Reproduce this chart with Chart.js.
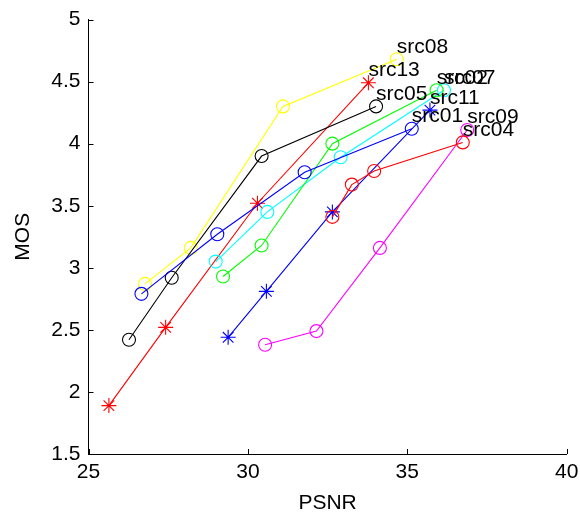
<!DOCTYPE html>
<html>
<head>
<meta charset="utf-8">
<script src="https://cdn.jsdelivr.net/npm/chart.js@4/dist/chart.umd.min.js"></script>
<style>
  html, body { margin: 0; padding: 0; background: #fff; }
  #wrap { width: 580px; height: 518px; }
</style>
</head>
<body>
<div id="wrap"><canvas id="mosChart" width="580" height="518"></canvas></div>
<script>
// axis ticks
const xTicks = [25, 30, 35, 40];
const xTickLabels = ['25', '30', '35', '40'];
const yTicks = [1.5, 2, 2.5, 3, 3.5, 4, 4.5, 5];
const yTickLabels = ['1.5', '2', '2.5', '3', '3.5', '4', '4.5', '5'];

// PSNR / MOS per source sequence
const src01Psnr = [26.66, 29.04, 31.78, 35.14];
const src01Mos = [2.79, 3.27, 3.77, 4.12];
const src02Psnr = [29.22, 30.43, 32.65, 35.92];
const src02Mos = [2.93, 3.18, 4.00, 4.43];
const src04Psnr = [32.65, 33.26, 33.96, 36.74];
const src04Mos = [3.41, 3.67, 3.78, 4.01];
const src05Psnr = [26.27, 27.61, 30.43, 34.02];
const src05Mos = [2.42, 2.92, 3.90, 4.30];
const src07Psnr = [28.99, 30.61, 32.91, 36.15];
const src07Mos = [3.05, 3.45, 3.89, 4.43];
const src08Psnr = [26.77, 28.21, 31.10, 34.67];
const src08Mos = [2.87, 3.16, 4.30, 4.68];
const src09Psnr = [30.54, 32.15, 34.14, 36.88];
const src09Mos = [2.38, 2.49, 3.16, 4.11];
const src11Psnr = [29.38, 30.58, 32.65, 35.71];
const src11Mos = [2.44, 2.81, 3.45, 4.27];
const src13Psnr = [25.64, 27.42, 30.30, 33.78];
const src13Mos = [1.89, 2.52, 3.52, 4.49];

const seriesNames = ['src01', 'src02', 'src04', 'src05', 'src07', 'src08', 'src09', 'src11', 'src13'];
const seriesPsnr = [src01Psnr, src02Psnr, src04Psnr, src05Psnr, src07Psnr, src08Psnr, src09Psnr, src11Psnr, src13Psnr];
const seriesMos = [src01Mos, src02Mos, src04Mos, src05Mos, src07Mos, src08Mos, src09Mos, src11Mos, src13Mos];

// matlab-ish line specs
const seriesColors = ['#0000ff', '#00ff00', '#ff0000', '#000000', '#00ffff', '#ffff00', '#ff00ff', '#0000ff', '#ff0000'];
const seriesMarkers = ['circle', 'circle', 'circle', 'circle', 'circle', 'circle', 'circle', 'star', 'star'];

const FONT = '"Liberation Sans", Arial, sans-serif';
const labelLift = 0.1;

const datasets = seriesNames.map((name, i) => ({
  label: name,
  data: seriesPsnr[i].map((p, j) => ({ x: p, y: seriesMos[i][j] })),
  borderColor: seriesColors[i],
  backgroundColor: 'rgba(0,0,0,0)',
  borderWidth: 1.1,
  pointStyle: seriesMarkers[i],
  pointRadius: seriesMarkers[i] === 'star' ? 7.5 : 6.5,
  pointBorderColor: seriesColors[i],
  pointBackgroundColor: 'rgba(0,0,0,0)',
  pointBorderWidth: 1.1,
  tension: 0,
  fill: false
}));

// ticks pointing into the plot, like the old matlab axes
const inwardTicks = {
  id: 'inwardTicks',
  afterDraw(chart) {
    const { ctx, chartArea, scales: { x, y } } = chart;
    ctx.save();
    ctx.strokeStyle = '#000';
    ctx.lineWidth = 1;
    ctx.beginPath();
    xTicks.forEach(v => {
      const px = Math.round(x.getPixelForValue(v)) + 0.5;
      ctx.moveTo(px, chartArea.bottom);
      ctx.lineTo(px, chartArea.bottom - 5);
    });
    yTicks.forEach(v => {
      const py = Math.round(y.getPixelForValue(v)) + 0.5;
      ctx.moveTo(chartArea.left, py);
      ctx.lineTo(chartArea.left + 5, py);
    });
    ctx.stroke();
    ctx.restore();
  }
};

// source name written next to the last point of each curve
const endLabels = {
  id: 'endLabels',
  afterDatasetsDraw(chart) {
    const { ctx, scales: { x, y } } = chart;
    ctx.save();
    ctx.font = '21px ' + FONT;
    ctx.fillStyle = '#000';
    ctx.textAlign = 'left';
    ctx.textBaseline = 'middle';
    chart.data.datasets.forEach(ds => {
      const last = ds.data[ds.data.length - 1];
      ctx.fillText(ds.label, x.getPixelForValue(last.x), y.getPixelForValue(last.y + labelLift));
    });
    ctx.restore();
  }
};

new Chart(document.getElementById('mosChart'), {
  type: 'line',
  data: { datasets },
  options: {
    responsive: false,
    animation: false,
    layout: { autoPadding: false, padding: { top: 19.5, right: 13.3, left: 0, bottom: 0 } },
    plugins: { legend: { display: false }, tooltip: { enabled: false } },
    scales: {
      x: {
        type: 'linear',
        min: 25,
        max: 40,
        afterBuildTicks: s => { s.ticks = xTicks.map(v => ({ value: v })); },
        afterFit: s => { s.height = 64; s.paddingLeft = 0; s.paddingRight = 0; },
        ticks: {
          padding: 6,
          color: '#000',
          font: { family: FONT, size: 21 },
          callback: (v) => xTickLabels[xTicks.indexOf(v)]
        },
        grid: { drawOnChartArea: false, drawTicks: false },
        border: { display: true, color: '#000', width: 1 },
        title: {
          display: true,
          text: 'PSNR',
          color: '#000',
          font: { family: FONT, size: 21 },
          padding: { top: 0, bottom: 2.4 }
        }
      },
      y: {
        type: 'linear',
        min: 1.5,
        max: 5,
        afterBuildTicks: s => { s.ticks = yTicks.map(v => ({ value: v })); },
        afterFit: s => { s.width = 88.5; s.paddingTop = 0; s.paddingBottom = 0; },
        ticks: {
          padding: 8,
          color: '#000',
          font: { family: FONT, size: 21 },
          callback: (v) => yTickLabels[yTicks.indexOf(v)]
        },
        grid: { drawOnChartArea: false, drawTicks: false },
        border: { display: true, color: '#000', width: 1 },
        title: {
          display: true,
          text: 'MOS',
          color: '#000',
          font: { family: FONT, size: 21 },
          padding: { top: 11, bottom: 0 }
        }
      }
    }
  },
  plugins: [inwardTicks, endLabels]
});
</script>
</body>
</html>
